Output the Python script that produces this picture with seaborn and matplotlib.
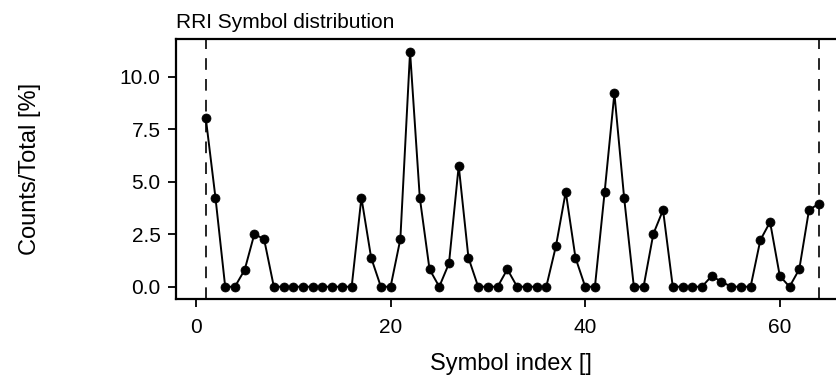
import matplotlib
matplotlib.use("Agg")
import matplotlib.pyplot as plt
import numpy as np
import pandas as pd
import seaborn as sns

# ---- data ----
symbol_index = list(range(1, 65))
percent = [
    8.05, 4.24, 0.0, 0.0, 0.80, 2.51, 2.26,            # 1-7
    0.0, 0.0, 0.0, 0.0, 0.0, 0.0, 0.0, 0.0, 0.0,        # 8-16
    4.24, 1.38, 0.0, 0.0, 2.26, 11.19, 4.24, 0.83,      # 17-24
    0.0, 1.11, 5.76, 1.38, 0.0, 0.0, 0.0, 0.83,         # 25-32
    0.0, 0.0, 0.0, 0.0, 1.95, 4.52, 1.38, 0.0,          # 33-40
    0.0, 4.52, 9.21, 4.24, 0.0, 0.0, 2.51, 3.65,        # 41-48
    0.0, 0.0, 0.0, 0.0, 0.51, 0.24, 0.0, 0.0,           # 49-56
    0.0, 2.22, 3.08, 0.51, 0.0, 0.83, 3.65, 3.95,       # 57-64
]
x_ticks = [0, 20, 40, 60]
y_ticks = [0.0, 2.5, 5.0, 7.5, 10.0]
boundary_lines = [1, 64]
title = "RRI Symbol distribution"
x_label = "Symbol index []"
y_label = "Counts/Total [%]"

df = pd.DataFrame({"idx": symbol_index, "pct": percent})

sns.set_theme(style="white")
plt.rcParams["font.family"] = ["Liberation Sans", "DejaVu Sans"]

W, H = 837, 383
fig = plt.figure(figsize=(W / 100, H / 100), dpi=100)
left_px, right_px, top_px, bottom_px = 176, 845, 39, 299
ax = fig.add_axes([left_px / W, (H - bottom_px) / H,
                   (right_px - left_px) / W, (bottom_px - top_px) / H])

for xv in boundary_lines:
    ax.axvline(xv, color="black", lw=1.2, linestyle=(0, (7.0, 5.5)), zorder=1)

sns.lineplot(data=df, x="idx", y="pct", ax=ax, color="black", lw=1.4,
             marker="o", markersize=6.5, markeredgecolor="black",
             markeredgewidth=0.5, zorder=3)

# axis limits (pixel calibrated)
px_per_x = 9.73
x0_px = 196
ax.set_xlim((left_px - x0_px) / px_per_x, (right_px - x0_px) / px_per_x)
px_per_y = 21.0
y0_px = 286.7
ax.set_ylim((y0_px - bottom_px) / px_per_y, (y0_px - top_px) / px_per_y)

ax.set_xticks(x_ticks)
ax.set_xticklabels([str(t) for t in x_ticks])
ax.set_yticks(y_ticks)
ax.set_yticklabels([f"{t:.1f}" for t in y_ticks])

for s in ax.spines.values():
    s.set_color("black")
    s.set_linewidth(1.6)

ax.tick_params(axis="both", direction="out", length=6, width=1.3,
               color="black", labelsize=15, labelcolor="black",
               bottom=True, left=True)
ax.tick_params(axis="x", pad=8)
ax.tick_params(axis="y", pad=5)

ax.set_xlabel(x_label, fontsize=17, color="black", labelpad=11)
ax.set_ylabel(y_label, fontsize=17, color="black", labelpad=57)
ax.set_title(title, loc="left", fontsize=15, color="black", pad=8)

fig.savefig("out.png", dpi=100)
